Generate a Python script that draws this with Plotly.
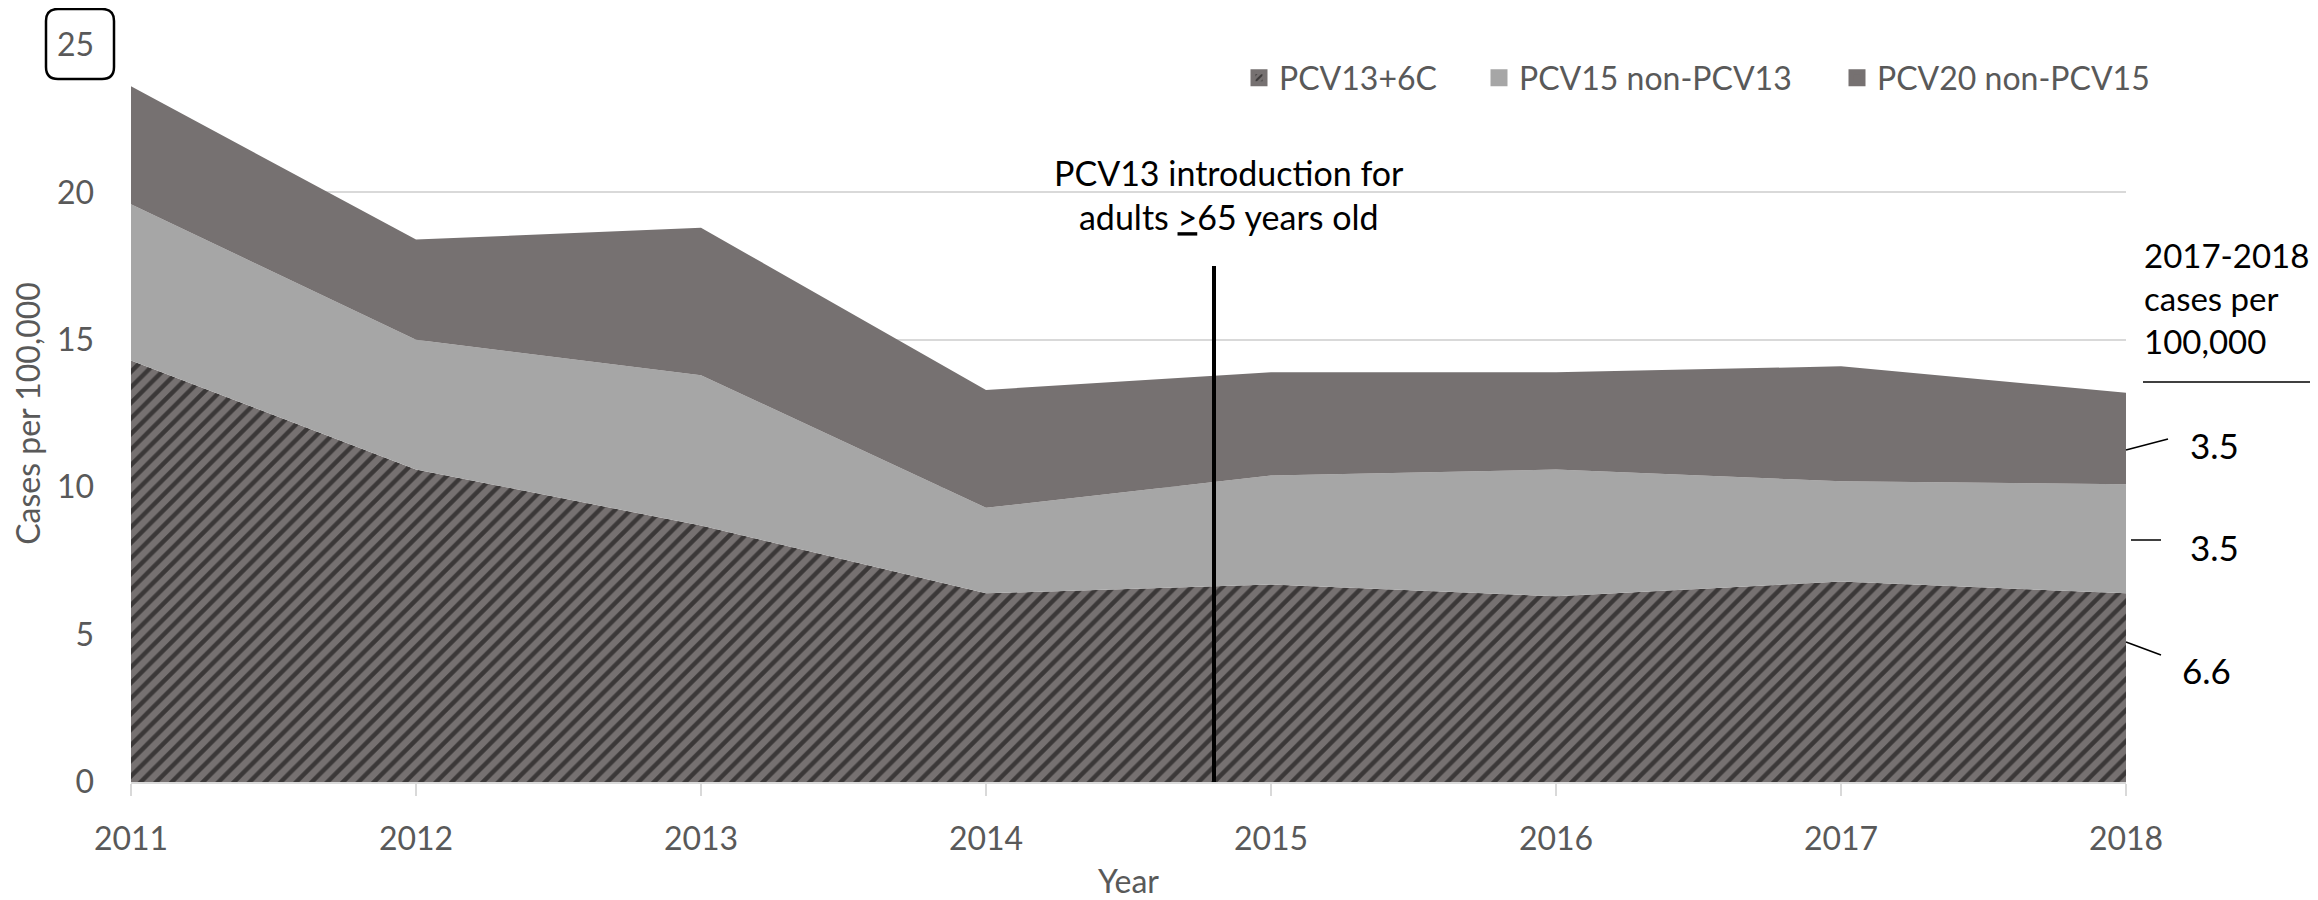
import plotly.graph_objects as go

# ---------------- data ----------------
years = [2011, 2012, 2013, 2014, 2015, 2016, 2017, 2018]
pcv13_6c = [14.3, 10.6, 8.7, 6.4, 6.7, 6.3, 6.8, 6.4]
pcv15_non_pcv13 = [5.3, 4.4, 5.1, 2.9, 3.7, 4.3, 3.4, 3.7]
pcv20_non_pcv15 = [4.0, 3.4, 5.0, 4.0, 3.5, 3.3, 3.9, 3.1]
series_names = ["PCV13+6C", "PCV15 non-PCV13", "PCV20 non-PCV15"]
avg_2017_2018 = [6.6, 3.5, 3.5]          # PCV13+6C, PCV15 non-PCV13, PCV20 non-PCV15
intro_year = 2014.8
intro_line_top = 17.5
y_ticks = [0, 5, 10, 15, 20, 25]

# ---------------- layout geometry (page pixels, body has 8px margin) ----------------
OFF = 8
W, H = 2318 - OFF, 900 - OFF
ML, MR, MT, MB = 131 - OFF, 192, 45 - OFF, 118
PW, PH = W - ML - MR, H - MT - MB


def px2x(px):
    return (px - OFF - ML) / PW


def py2y(py):
    return (H - MB - (py - OFF)) / PH


FONT = "Lato, 'Open Sans', sans-serif"
GRAY_TXT = "#595959"
DARK = "#767171"
LIGHT = "#A6A6A6"
GRID = "#D9D9D9"

fig = go.Figure()

# stacked areas
fig.add_trace(go.Scatter(
    x=years, y=pcv13_6c, name=series_names[0], stackgroup="one", mode="lines",
    line=dict(width=0), fillcolor=DARK,
    fillpattern=dict(shape="/", bgcolor=DARK, fgcolor="black", size=11, solidity=0.4),
    showlegend=False, hoverinfo="x+y+name"))
fig.add_trace(go.Scatter(
    x=years, y=pcv15_non_pcv13, name=series_names[1], stackgroup="one", mode="lines",
    line=dict(width=0), fillcolor=LIGHT, showlegend=False, hoverinfo="x+y+name"))
fig.add_trace(go.Scatter(
    x=years, y=pcv20_non_pcv15, name=series_names[2], stackgroup="one", mode="lines",
    line=dict(width=0), fillcolor=DARK, showlegend=False, hoverinfo="x+y+name"))

# legend swatches (square icons), one legend per item for exact placement
fig.add_trace(go.Bar(x=[None], y=[None], name=series_names[0], legend="legend",
                     marker=dict(color=DARK, line=dict(color=DARK, width=5),
                                 pattern=dict(shape="/", bgcolor=DARK, fgcolor="black",
                                              size=6, solidity=0.45))))
fig.add_trace(go.Bar(x=[None], y=[None], name=series_names[1], legend="legend2",
                     marker=dict(color=LIGHT, line=dict(color=LIGHT, width=5))))
fig.add_trace(go.Bar(x=[None], y=[None], name=series_names[2], legend="legend3",
                     marker=dict(color=DARK, line=dict(color=DARK, width=5))))

# vertical introduction line
fig.add_shape(type="line", xref="x", yref="y", x0=intro_year, x1=intro_year,
              y0=0, y1=intro_line_top, line=dict(color="black", width=4))

annotations = []
annotations.append(dict(
    xref="paper", yref="paper", x=px2x(1229), y=py2y(195), xanchor="center", yanchor="middle",
    text="PCV13 introduction for<br>adults <u>&gt;</u>65 years old", showarrow=False,
    font=dict(family=FONT, size=34, color="black"), align="center"))

# right-hand summary
annotations.append(dict(
    xref="paper", yref="paper", x=px2x(2142), y=py2y(298), xanchor="left", yanchor="middle",
    text="2017-2018<br>cases per<br>100,000", showarrow=False, align="left",
    font=dict(family=FONT, size=33, color="black")))
fig.add_shape(type="line", xref="paper", yref="paper", x0=px2x(2143), x1=px2x(2330),
              y0=py2y(382), y1=py2y(382), line=dict(color="black", width=1.5))

label_pos = [(2180, 670), (2188, 547), (2188, 445)]
leaders = [((2126, 642), (2161, 655)), ((2131, 540), (2161, 540)), ((2126, 450), (2168, 439))]
for v, (lx, ly), ((ax0, ay0), (ax1, ay1)) in zip(avg_2017_2018, label_pos, leaders):
    annotations.append(dict(xref="paper", yref="paper", x=px2x(lx), y=py2y(ly),
                            xanchor="left", yanchor="middle", text=f"{v:.1f}", showarrow=False,
                            font=dict(family=FONT, size=35, color="black")))
    fig.add_shape(type="line", xref="paper", yref="paper", x0=px2x(ax0), y0=py2y(ay0),
                  x1=px2x(ax1), y1=py2y(ay1), line=dict(color="black", width=1.5))

# rounded box around the "25" tick label
r = 12
hw, hh = 34, 35
path = (f"M {-hw + r},{-hh} L {hw - r},{-hh} Q {hw},{-hh} {hw},{-hh + r} "
        f"L {hw},{hh - r} Q {hw},{hh} {hw - r},{hh} L {-hw + r},{hh} "
        f"Q {-hw},{hh} {-hw},{hh - r} L {-hw},{-hh + r} Q {-hw},{-hh} {-hw + r},{-hh} Z")
fig.add_shape(type="path", xref="paper", yref="paper", xsizemode="pixel", ysizemode="pixel",
              xanchor=px2x(80), yanchor=py2y(44), path=path,
              line=dict(color="black", width=2.5), fillcolor="rgba(0,0,0,0)")


def legend_at(text_left_px):
    return dict(orientation="h", xanchor="left", x=px2x(text_left_px - 40), yanchor="middle",
                y=py2y(78), font=dict(family=FONT, size=32, color=GRAY_TXT),
                bgcolor="rgba(0,0,0,0)", borderwidth=0, itemclick=False, itemdoubleclick=False)


fig.update_layout(
    width=W, height=H,
    margin=dict(l=ML, r=MR, t=MT, b=MB, autoexpand=False),
    paper_bgcolor="white", plot_bgcolor="white",
    font=dict(family=FONT, color=GRAY_TXT),
    barmode="overlay",
    annotations=annotations,
    legend=legend_at(1279),
    legend2=legend_at(1519),
    legend3=legend_at(1877),
    xaxis=dict(range=[years[0], years[-1]], tickvals=years, ticktext=[str(y) for y in years],
               showgrid=False, zeroline=False, showline=True, linecolor=GRID, linewidth=2,
               ticks="outside", ticklen=12, tickcolor=GRID, tickwidth=2, automargin=False,
               tickfont=dict(family=FONT, size=32, color=GRAY_TXT), ticklabelstandoff=16,
               title=dict(text="Year", font=dict(family=FONT, size=32, color=GRAY_TXT), standoff=18)),
    yaxis=dict(range=[0, 25], tickvals=y_ticks, showgrid=True, gridcolor=GRID, gridwidth=2,
               zeroline=False, showline=False, ticks="", automargin=False,
               tickfont=dict(family=FONT, size=32, color=GRAY_TXT), ticklabelstandoff=36,
               title=dict(text="Cases per 100,000", font=dict(family=FONT, size=32, color=GRAY_TXT),
                          standoff=14)),
)

fig.write_html("out.html")
